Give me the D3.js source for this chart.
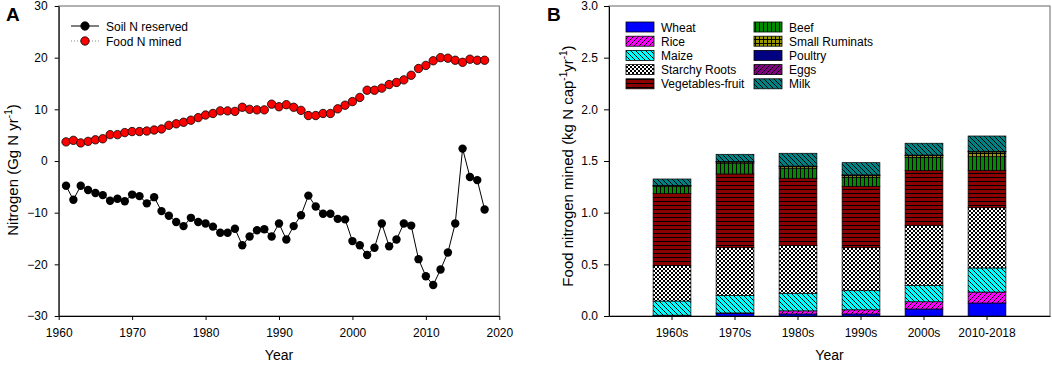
<!DOCTYPE html>
<meta charset="utf-8">
<style>
body { margin: 0; background: #fff; }
svg { font-family: "Liberation Sans", Arial, sans-serif; }
.tick text { font-size: 12px; fill: #000; }
.axis path, .axis line { stroke: #000; }
</style>
<body>
<script src="https://d3js.org/d3.v7.min.js"></script>
<script>

// ---- panel A data: Gg N per year
var years = [1961,1962,1963,1964,1965,1966,1967,1968,1969,1970,
  1971,1972,1973,1974,1975,1976,1977,1978,1979,1980,
  1981,1982,1983,1984,1985,1986,1987,1988,1989,1990,
  1991,1992,1993,1994,1995,1996,1997,1998,1999,2000,
  2001,2002,2003,2004,2005,2006,2007,2008,2009,2010,
  2011,2012,2013,2014,2015,2016,2017,2018];

var soilN = [-4.8,-7.5,-4.8,-5.6,-6.2,-6.6,-7.7,-7.3,-7.8,-6.5,
  -6.8,-8.2,-7.0,-9.7,-10.6,-11.8,-12.6,-11.0,-11.8,-12.1,
  -12.7,-13.9,-13.9,-13.1,-16.3,-14.6,-13.4,-13.2,-14.6,-12.1,
  -15.2,-12.6,-10.5,-6.7,-8.8,-10.2,-10.2,-11.2,-11.3,-15.5,
  -16.3,-18.2,-16.8,-12.1,-16.5,-15.2,-12.1,-12.5,-19.0,-22.3,
  -24.0,-21.0,-17.7,-12.1,2.4,-3.1,-3.7,-9.4];

var foodN = [3.7,4.0,3.5,3.8,4.1,4.3,5.1,5.1,5.5,5.7,
  5.7,5.8,6.0,6.2,6.9,7.2,7.5,7.9,8.4,8.9,
  9.2,9.7,9.7,9.6,10.4,10.0,9.9,9.9,11.0,10.5,
  10.9,10.4,9.8,8.8,8.8,9.2,9.2,10.1,10.8,11.5,
  12.3,13.7,13.7,14.1,14.8,15.2,15.7,16.6,17.9,18.5,
  19.4,20.0,19.9,19.5,19.1,19.7,19.5,19.5];

var yTicksA = [-30,-20,-10,0,10,20,30];
var xTicksA = [1960,1970,1980,1990,2000,2010,2020];

// ---- panel B data: kg N per capita per year
var decades = ["1960s","1970s","1980s","1990s","2000s","2010-2018"];
var foods = ["Wheat","Rice","Maize","Starchy Roots","Vegetables-fruit",
  "Beef","Small Ruminats","Poultry","Eggs","Milk"];

var wheat   = [0.005,0.025,0.020,0.020,0.068,0.126];
var rice    = [0.003,0.005,0.030,0.040,0.070,0.106];
var maize   = [0.137,0.170,0.170,0.185,0.159,0.233];
var starchy = [0.342,0.461,0.464,0.416,0.581,0.583];
var veg     = [0.697,0.714,0.649,0.594,0.529,0.362];
var beef    = [0.071,0.103,0.097,0.088,0.129,0.132];
var smallRum= [0.005,0.012,0.015,0.017,0.016,0.046];
var poultry = [0.002,0.003,0.003,0.003,0.003,0.003];
var eggs    = [0.002,0.003,0.003,0.003,0.003,0.003];
var milk    = [0.062,0.069,0.124,0.118,0.114,0.148];

var yTicksB = [0,0.5,1.0,1.5,2.0,2.5,3.0];

var foodValues = [wheat, rice, maize, starchy, veg, beef, smallRum, poultry, eggs, milk];

// fill styles for the stacked bars
var fills = [
  {bg: "#0000ff"},
  {bg: "#ff00ff", hatch: "/"},
  {bg: "#00ffff", hatch: "\\"},
  {bg: "#ffffff", hatch: "check"},
  {bg: "#8b0000", hatch: "h"},
  {bg: "#008a00", hatch: "v"},
  {bg: "#9a9a00", hatch: "grid"},
  {bg: "#000080"},
  {bg: "#800080", hatch: "/"},
  {bg: "#008080", hatch: "\\"}
];

var W = 1052, H = 366;
var svg = d3.select("body").append("svg")
    .attr("width", W)
    .attr("height", H);

// ---------- patterns
var defs = svg.append("defs");
fills.forEach(function(f, i) {
  var s = 5;
  if (f.hatch === "check" || f.hatch === "h" || f.hatch === "v" || f.hatch === "grid") s = 4;
  var p = defs.append("pattern")
      .attr("id", "pat" + i)
      .attr("patternUnits", "userSpaceOnUse")
      .attr("width", s)
      .attr("height", s);
  p.append("rect").attr("width", s).attr("height", s).attr("fill", f.bg);
  var ln = function(d) {
    p.append("path").attr("d", d).attr("stroke", "#000").attr("stroke-width", 1).attr("fill", "none");
  };
  if (f.hatch === "/") ln(`M0,${s} L${s},0 M-1,1 L1,-1 M${s-1},${s+1} L${s+1},${s-1}`);
  if (f.hatch === "\\") ln(`M0,0 L${s},${s} M-1,${s-1} L1,${s+1} M${s-1},-1 L${s+1},1`);
  if (f.hatch === "h") ln(`M0,${s-0.5} L${s},${s-0.5}`);
  if (f.hatch === "v") ln(`M${s-0.5},0 L${s-0.5},${s}`);
  if (f.hatch === "grid") ln(`M0,${s-0.5} L${s},${s-0.5} M${s-0.5},0 L${s-0.5},${s}`);
  if (f.hatch === "check") {
    p.append("rect").attr("width", 2).attr("height", 2).attr("fill", "#000");
    p.append("rect").attr("x", 2).attr("y", 2).attr("width", 2).attr("height", 2).attr("fill", "#000");
  }
});

// ================= Panel A =================
var mA = {left: 58.7, top: 6, w: 440.6, h: 310};
var gA = svg.append("g").attr("transform", `translate(${mA.left},${mA.top})`);

var xA = d3.scaleLinear().domain([1960, 2020]).range([0, mA.w]);
var yA = d3.scaleLinear().domain([-30, 30]).range([mA.h, 0]);

// frame
gA.append("rect").attr("width", mA.w).attr("height", mA.h)
    .attr("fill", "none").attr("stroke", "#666");

gA.append("g").attr("class", "axis")
    .attr("transform", `translate(0,${mA.h})`)
    .call(d3.axisBottom(xA).tickValues(xTicksA).tickFormat(d3.format("d"))
      .tickSize(4).tickSizeOuter(0).tickPadding(8));

gA.append("g").attr("class", "axis")
    .call(d3.axisLeft(yA).tickValues(yTicksA).tickSize(4).tickSizeOuter(0).tickPadding(7));

var soil = years.map((y, i) => ({year: y, v: soilN[i]}));
var food = years.map((y, i) => ({year: y, v: foodN[i]}));

var lineA = d3.line().x(d => xA(d.year)).y(d => yA(d.v));

gA.append("path").datum(food).attr("d", lineA)
    .attr("fill", "none").attr("stroke", "#888").attr("stroke-dasharray", "1,2");
gA.append("path").datum(soil).attr("d", lineA)
    .attr("fill", "none").attr("stroke", "#000").attr("stroke-width", 1);

gA.selectAll("circle.food").data(food).enter().append("circle")
    .attr("class", "food")
    .attr("cx", d => xA(d.year)).attr("cy", d => yA(d.v)).attr("r", 4.2)
    .attr("fill", "#ff0000").attr("stroke", "#000").attr("stroke-width", 0.8);
gA.selectAll("circle.soil").data(soil).enter().append("circle")
    .attr("class", "soil")
    .attr("cx", d => xA(d.year)).attr("cy", d => yA(d.v)).attr("r", 4.2)
    .attr("fill", "#000");

// legend A
var legA = svg.append("g");
[["Soil N reserved", "#000", "#000", null], ["Food N mined", "#ff0000", "#888", "1,2"]].forEach(function(d, i) {
  var y = 26 + i * 15;
  legA.append("line").attr("x1", 71).attr("x2", 99).attr("y1", y).attr("y2", y)
      .attr("stroke", d[2]).attr("stroke-dasharray", d[3]);
  legA.append("circle").attr("cx", 85).attr("cy", y).attr("r", 4.2)
      .attr("fill", d[1]).attr("stroke", "#000").attr("stroke-width", 0.8);
  legA.append("text").attr("x", 106).attr("y", y + 4.5)
      .style("font-size", "12px").text(d[0]);
});

svg.append("text").attr("x", 6).attr("y", 21)
    .style("font-size", "19px").style("font-weight", "bold").text("A");

svg.append("text").attr("x", mA.left + mA.w / 2).attr("y", 360)
    .attr("text-anchor", "middle").style("font-size", "14px").text("Year");

var tA = svg.append("text")
    .attr("transform", "translate(18,170) rotate(-90)")
    .attr("text-anchor", "middle").style("font-size", "15px");
tA.append("tspan").text("Nitrogen (Gg N yr");
tA.append("tspan").attr("dy", -6).style("font-size", "10px").text("-1");
tA.append("tspan").attr("dy", 6).text(")");

// ================= Panel B =================
var mB = {left: 609, top: 6, w: 441, h: 310};
var gB = svg.append("g").attr("transform", `translate(${mB.left},${mB.top})`);

var xB = d3.scaleBand().domain(decades).range([0, mB.w])
    .paddingInner(0.4).paddingOuter(0.7);
var yB = d3.scaleLinear().domain([0, 3]).range([mB.h, 0]);

gB.append("rect").attr("width", mB.w).attr("height", mB.h)
    .attr("fill", "none").attr("stroke", "#666");

var table = decades.map(function(dec, j) {
  var row = {decade: dec};
  foods.forEach((f, k) => row[f] = foodValues[k][j]);
  return row;
});
var stacked = d3.stack().keys(foods)(table);

gB.selectAll("g.layer").data(stacked).enter().append("g")
    .attr("class", "layer")
    .attr("fill", (d, i) => `url(#pat${i})`)
  .selectAll("rect").data(d => d).enter().append("rect")
    .attr("x", d => xB(d.data.decade))
    .attr("width", xB.bandwidth())
    .attr("y", d => yB(d[1]))
    .attr("height", d => yB(d[0]) - yB(d[1]))
    .attr("stroke", "#000").attr("stroke-width", 0.7);

gB.append("g").attr("class", "axis")
    .attr("transform", `translate(0,${mB.h})`)
    .call(d3.axisBottom(xB).tickSize(4).tickSizeOuter(0).tickPadding(8));

gB.append("g").attr("class", "axis")
    .call(d3.axisLeft(yB).tickValues(yTicksB).tickFormat(d3.format(".1f"))
      .tickSize(5).tickSizeOuter(0).tickPadding(6));

// legend B
var legB = svg.append("g");
foods.forEach(function(f, i) {
  var col = Math.floor(i / 5), row = i % 5;
  var x = col === 0 ? 626 : 754;
  var y = 22 + row * 14.2;
  legB.append("rect").attr("x", x).attr("y", y).attr("width", 28).attr("height", 10)
      .attr("fill", `url(#pat${i})`).attr("stroke", "#000").attr("stroke-width", 0.8);
  legB.append("text").attr("x", x + 35).attr("y", y + 9.5)
      .style("font-size", "12px").text(f);
});

svg.append("text").attr("x", 547).attr("y", 21)
    .style("font-size", "19px").style("font-weight", "bold").text("B");

svg.append("text").attr("x", mB.left + mB.w / 2).attr("y", 360)
    .attr("text-anchor", "middle").style("font-size", "14px").text("Year");

var tB = svg.append("text")
    .attr("transform", "translate(573,166) rotate(-90)")
    .attr("text-anchor", "middle").style("font-size", "15px");
tB.append("tspan").text("Food nitrogen mined (kg N cap");
tB.append("tspan").attr("dy", -6).style("font-size", "10px").text("-1");
tB.append("tspan").attr("dy", 6).text("yr");
tB.append("tspan").attr("dy", -6).style("font-size", "10px").text("-1");
tB.append("tspan").attr("dy", 6).text(")");

</script>
</body>
